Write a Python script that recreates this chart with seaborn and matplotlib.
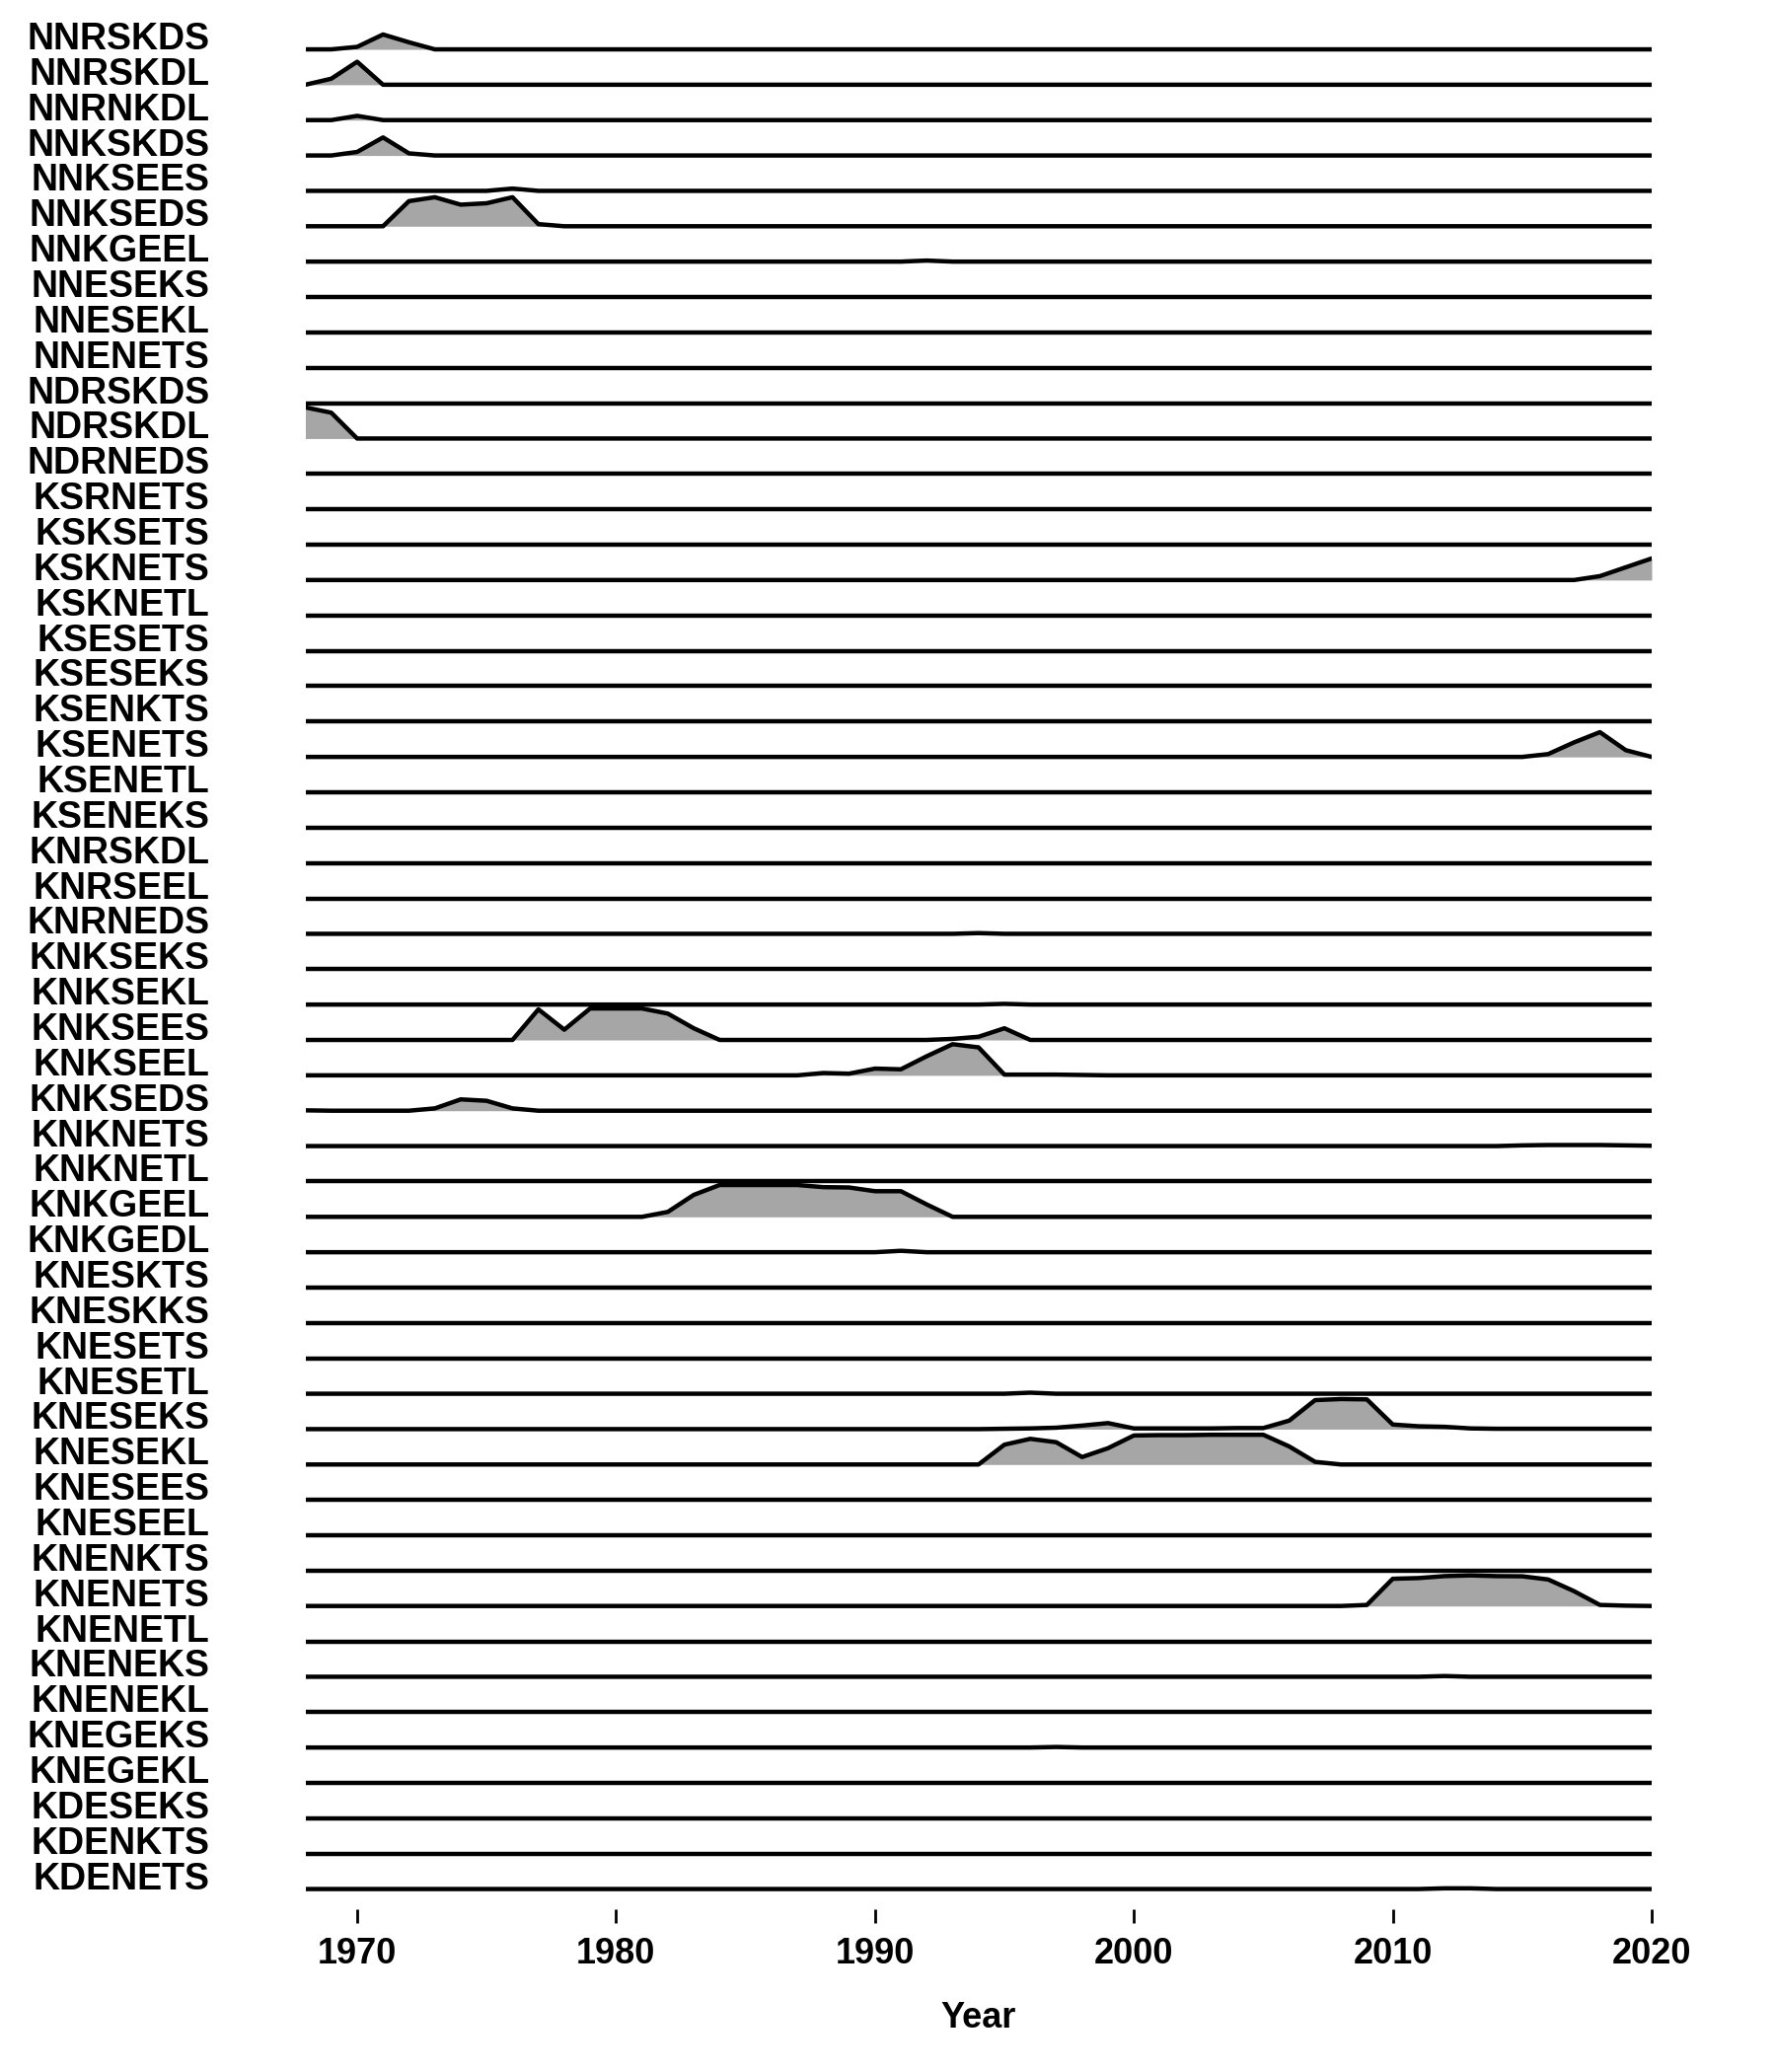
import numpy as np
import pandas as pd
import matplotlib
matplotlib.use('Agg')
import matplotlib.pyplot as plt
import seaborn as sns

# row labels, top to bottom
labels = ['NNRSKDS', 'NNRSKDL', 'NNRNKDL', 'NNKSKDS', 'NNKSEES', 'NNKSEDS', 'NNKGEEL',
          'NNESEKS', 'NNESEKL', 'NNENETS', 'NDRSKDS', 'NDRSKDL', 'NDRNEDS', 'KSRNETS',
          'KSKSETS', 'KSKNETS', 'KSKNETL', 'KSESETS', 'KSESEKS', 'KSENKTS', 'KSENETS',
          'KSENETL', 'KSENEKS', 'KNRSKDL', 'KNRSEEL', 'KNRNEDS', 'KNKSEKS', 'KNKSEKL',
          'KNKSEES', 'KNKSEEL', 'KNKSEDS', 'KNKNETS', 'KNKNETL', 'KNKGEEL', 'KNKGEDL',
          'KNESKTS', 'KNESKKS', 'KNESETS', 'KNESETL', 'KNESEKS', 'KNESEKL', 'KNESEES',
          'KNESEEL', 'KNENKTS', 'KNENETS', 'KNENETL', 'KNENEKS', 'KNENEKL', 'KNEGEKS',
          'KNEGEKL', 'KDESEKS', 'KDENKTS', 'KDENETS']
years = list(range(1968, 2021))

# non-zero stretches: (first year, values); all other years are 0
nnrskds = (1969, [0, 0.07, 0.42, 0.20, 0])
nnrskdl = (1968, [0, 0.17, 0.65, 0])
nnrnkdl = (1969, [0, 0.12, 0])
nnkskds = (1969, [0, 0.10, 0.51, 0.06, 0])
nnksees = (1975, [0, 0.065, 0])
nnkseds = (1971, [0, 0.71, 0.82, 0.61, 0.65, 0.82, 0.06, 0])
nnkgeel = (1991, [0, 0.03, 0])
ndrskdl = (1968, [0.88, 0.73, 0])
ksknets = (2017, [0, 0.11, 0.36, 0.61])
ksenets = (2015, [0, 0.08, 0.41, 0.70, 0.19, 0])
knrneds = (1993, [0, 0.02, 0])
knksekl = (1994, [0, 0.02, 0])
knksees = (1976, [0, 0.865, 0.29, 0.89, 0.89, 0.89, 0.745, 0.33, 0,
                  0, 0, 0, 0, 0, 0, 0, 0, 0.03, 0.09, 0.33, 0])
knkseel = (1987, [0, 0.065, 0.047, 0.19, 0.17, 0.54, 0.88, 0.79, 0.02, 0.02, 0.02, 0.01, 0])
knkseds = (1968, [0.01, 0, 0, 0, 0, 0.065, 0.32, 0.28, 0.065, 0])
knknets = (2014, [0, 0.02, 0.03, 0.03, 0.03, 0.02, 0.01])
knkgeel = (1981, [0, 0.14, 0.62, 0.90, 0.90, 0.90, 0.90, 0.84, 0.83, 0.725, 0.725, 0.35, 0])
knkgedl = (1990, [0, 0.04, 0])
knesetl = (1995, [0, 0.03, 0])
kneseks = (1995, [0.01, 0.02, 0.04, 0.10, 0.17, 0.02, 0.02, 0.02, 0.02, 0.03, 0.03, 0.24, 0.82,
                  0.85, 0.84, 0.13, 0.08, 0.065, 0.02, 0.01, 0.01, 0.01, 0.01, 0.01, 0.01, 0.01])
kneskl = (1994, [0, 0.56, 0.725, 0.63, 0.21, 0.46, 0.82, 0.83, 0.83, 0.84, 0.84, 0.84, 0.51, 0.074, 0])
knenets = (2008, [0, 0.03, 0.77, 0.79, 0.845, 0.865, 0.845, 0.84, 0.75, 0.42, 0.03, 0.01, 0])
kneneks = (2011, [0, 0.02, 0])
knegeks = (1996, [0, 0.015, 0])
kdenets = (2011, [0, 0.02, 0.02, 0])

bumps = {'NNRSKDS': nnrskds, 'NNRSKDL': nnrskdl, 'NNRNKDL': nnrnkdl, 'NNKSKDS': nnkskds,
         'NNKSEES': nnksees, 'NNKSEDS': nnkseds, 'NNKGEEL': nnkgeel, 'NDRSKDL': ndrskdl,
         'KSKNETS': ksknets, 'KSENETS': ksenets, 'KNRNEDS': knrneds, 'KNKSEKL': knksekl,
         'KNKSEES': knksees, 'KNKSEEL': knkseel, 'KNKSEDS': knkseds, 'KNKNETS': knknets,
         'KNKGEEL': knkgeel, 'KNKGEDL': knkgedl, 'KNESETL': knesetl, 'KNESEKS': kneseks,
         'KNESEKL': kneskl, 'KNENETS': knenets, 'KNENEKS': kneneks, 'KNEGEKS': knegeks,
         'KDENETS': kdenets}

# long table: one row per label and year
rows = []
for lab in labels:
    start, vals = bumps.get(lab, (1968, []))
    for yr in years:
        i = yr - start
        v = vals[i] if 0 <= i < len(vals) else 0.0
        rows.append((lab, yr, v))
df = pd.DataFrame(rows, columns=['label', 'year', 'value'])

sns.set_theme(style='white')
plt.rcParams['font.family'] = ['Liberation Sans', 'DejaVu Sans']
plt.rcParams['text.color'] = 'black'
plt.rcParams['axes.labelcolor'] = 'black'
plt.rcParams['xtick.color'] = 'black'
plt.rcParams['ytick.color'] = 'black'

fig = plt.figure(figsize=(18, 21), dpi=100)
ax = fig.add_axes([309.5 / 1800, (2100 - 1935) / 2100, (1674 - 309.5) / 1800, (1935 - 3.4) / 2100])

n = len(labels)
for k, lab in enumerate(labels):
    base = n - 1 - k
    d = df[df['label'] == lab]
    y = base + d['value'].to_numpy()
    ax.fill_between(d['year'], base, y, color='#a6a6a6', linewidth=0, zorder=2 * k + 1)
    sns.lineplot(x=d['year'].to_numpy(), y=y, ax=ax, color='black', linewidth=3.2,
                 solid_capstyle='round', zorder=2 * k + 2)

ax.set_xlim(1968, 2020)
ax.set_ylim(-0.57, n - 1 + 1.3)
ax.set_yticks(range(n - 1, -1, -1))
ax.set_yticklabels(labels, fontsize=27, fontweight='bold', va='baseline')
ax.tick_params(axis='y', length=0, pad=70)
ax.set_xticks([1970, 1980, 1990, 2000, 2010, 2020])
ax.set_xticklabels(['1970', '1980', '1990', '2000', '2010', '2020'], fontsize=26, fontweight='bold')
ax.tick_params(axis='x', direction='out', length=10, width=2, color='black', pad=10, bottom=True)
ax.set_xlabel('Year', fontsize=26, fontweight='bold', labelpad=22)
ax.set_ylabel('')
sns.despine(ax=ax, left=True, bottom=True)

fig.savefig('out.png', dpi=100)
